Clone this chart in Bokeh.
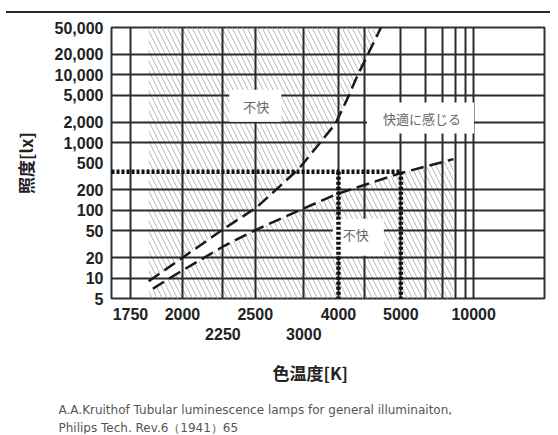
from bokeh.plotting import figure
from bokeh.models import (Range1d, FixedTicker, LinearAxis, NumeralTickFormatter,
                          Label, Title)
from bokeh.embed import file_html
from bokeh.resources import INLINE

# ---------------- data (colour temperature in K, illuminance in lx) ----------------
curve_a_K = [1830, 2000, 2260, 2510, 2940, 3450, 3660, 3850, 4400]      # lower limit of comfort
curve_a_lux = [9, 20, 54, 110, 410, 1900, 4500, 9700, 50000]
curve_b_K = [1850, 2000, 2260, 2510, 3000, 3480, 4950, 7830]      # upper limit of comfort
curve_b_lux = [7, 13, 30, 52, 107, 175, 350, 570]
hatch_left_K = 1830

comfort_lux = 370
comfort_K = [3500, 5000]

grid_K = [1750, 2000, 2250, 2500, 3000, 3500, 4000, 5000, 6000, 7000, 8000, 9000, 10000]
grid_lux = [10, 20, 50, 100, 200, 1000, 2000, 5000, 10000, 20000]
tick_lux = [5, 10, 20, 50, 100, 200, 500, 1000, 2000, 5000, 10000, 20000, 50000]
row1_K = [1750, 2000, 2500, 3500, 5000, 10000]
row1_labels = ["1750", "2000", "2500", "4000", "5000", "10000"]
row2_K = [2250, 3000]
row2_labels = ["2250", "3000"]

region_texts = ["不快", "快適に感じる", "不快"]
region_K = [2500, 5780, 3870]
region_lux = [3500, 2300, 40]

y_bottom, y_top = 5, 50000
x_left_mired, x_right_mired = 597.5, 2.7


def mired(t):
    return round(1e6 / t, 4)


# ---------------- figure ----------------
p = figure(width=550, height=434, output_backend="svg", toolbar_location=None,
           x_range=Range1d(x_left_mired, x_right_mired),
           y_range=Range1d(y_bottom, y_top), y_axis_type="log",
           min_border_left=111, min_border_right=6, min_border_top=27,
           min_border_bottom=135, background_fill_color="white",
           border_fill_color=None)
# page frame: top rule drawn as host background
p.styles = {
    "background": ("linear-gradient(#2a2a2a,#2a2a2a) 6px 11px / 100% 2px no-repeat, "
                   "white"),
}
p.outline_line_color = "#333333"
p.outline_line_width = 2

# grid
p.xgrid.ticker = FixedTicker(ticks=[mired(t) for t in grid_K])
p.ygrid.ticker = FixedTicker(ticks=grid_lux)
for g in (p.xgrid, p.ygrid):
    g.grid_line_color = "#2b2b2b"
    g.grid_line_width = 2
    g.grid_line_alpha = 1

tick_font = "Liberation Sans"

# main x axis (first row of labels)
xa = p.xaxis[0]
xa.ticker = FixedTicker(ticks=[mired(t) for t in row1_K])
xa.major_label_overrides = {mired(t): s for t, s in zip(row1_K, row1_labels)}
# second x axis (staggered labels)
xa2 = LinearAxis(ticker=FixedTicker(ticks=[mired(t) for t in row2_K]),
                 major_label_overrides={mired(t): s for t, s in zip(row2_K, row2_labels)})
p.add_layout(xa2, "below")
for ax in (xa, xa2):
    ax.axis_line_color = None
    ax.major_tick_line_color = None
    ax.minor_tick_line_color = None
    ax.major_tick_in = 0
    ax.major_tick_out = 0
    ax.major_label_text_font = tick_font
    ax.major_label_text_font_size = "16px"
    ax.major_label_text_font_style = "bold"
    ax.major_label_text_color = "#222222"
xa.major_label_standoff = 9
xa2.major_label_standoff = 5

# y axis
ya = p.yaxis[0]
ya.ticker = FixedTicker(ticks=tick_lux)
ya.formatter = NumeralTickFormatter(format="0,0")
ya.axis_line_color = None
ya.major_tick_line_color = None
ya.minor_tick_line_color = None
ya.major_tick_in = 0
ya.major_tick_out = 0
ya.major_label_standoff = 8
ya.major_label_text_font = tick_font
ya.major_label_text_font_size = "16px"
ya.major_label_text_font_style = "bold"
ya.major_label_text_color = "#222222"
ya.axis_label = "照度[lx]"
ya.axis_label_text_font = "Noto Sans CJK JP"
ya.axis_label_text_font_size = "17px"
ya.axis_label_text_font_style = "bold"
ya.axis_label_text_color = "#222222"
ya.axis_label_standoff = 14

# hatched "unpleasant" regions
up_x = [mired(hatch_left_K)] + [mired(t) for t in curve_a_K]
up_y = [y_top] + curve_a_lux
lo_x = [mired(hatch_left_K), mired(hatch_left_K)] + [mired(t) for t in curve_b_K] + [mired(curve_b_K[-1])]
lo_y = [y_bottom, curve_b_lux[0]] + curve_b_lux + [y_bottom]
for xs, ys in ((up_x, up_y), (lo_x, lo_y)):
    p.patch(xs, ys, fill_alpha=0, line_alpha=0, hatch_pattern="\\",
            hatch_color="#b8b8b8", hatch_alpha=1, hatch_scale=10, hatch_weight=1,
            level="underlay")

# dashed limit curves
p.line([mired(t) for t in curve_a_K], curve_a_lux, line_color="#1a1a1a",
       line_width=2.5, line_dash="13 6")
p.line([mired(t) for t in curve_b_K], curve_b_lux, line_color="#1a1a1a",
       line_width=2.5, line_dash="13 6")

# region labels with white boxes
pads = [dict(left=14, right=12, top=7, bottom=6),
        dict(left=16, right=13, top=6, bottom=6),
        dict(left=10, right=15, top=6, bottom=12)]
for txt, k, lx, pd in zip(region_texts, region_K, region_lux, pads):
    p.add_layout(Label(x=mired(k), y=lx, text=txt, text_align="center",
                       text_baseline="middle", text_font="Noto Sans CJK JP",
                       text_font_size="13px", text_color="#666666",
                       background_fill_color="white", padding=pd))

# dotted comfort box lines
p.line([x_left_mired, mired(comfort_K[-1])], [comfort_lux, comfort_lux],
       line_color="#111111", line_width=4.5, line_dash="3 2", level="overlay")
p.segment(x0=[mired(t) for t in comfort_K], y0=[comfort_lux] * 2,
          x1=[mired(t) for t in comfort_K], y1=[y_bottom] * 2,
          line_color="#111111", line_width=4.5, line_dash="3 2", level="overlay")

# x axis title and reference caption
p.add_layout(Title(text="色温度[K]", align="left", offset=161,
                   text_font="Noto Sans CJK JP", text_font_size="17px",
                   text_font_style="bold", text_color="#222222", standoff=30), "below")
p.add_layout(Title(text="A.A.Kruithof Tubular luminescence lamps for general illuminaiton,",
                   align="left", offset=-53, text_font="DejaVu Sans",
                   text_font_size="12px", text_font_style="normal",
                   text_color="#555555", standoff=3), "below")
p.add_layout(Title(text="Philips Tech. Rev.6（1941）65",
                   align="left", offset=-53, text_font="DejaVu Sans",
                   text_font_size="12px", text_font_style="normal",
                   text_color="#555555", standoff=0), "below")

open("out.html", "w").write(file_html(p, INLINE))
